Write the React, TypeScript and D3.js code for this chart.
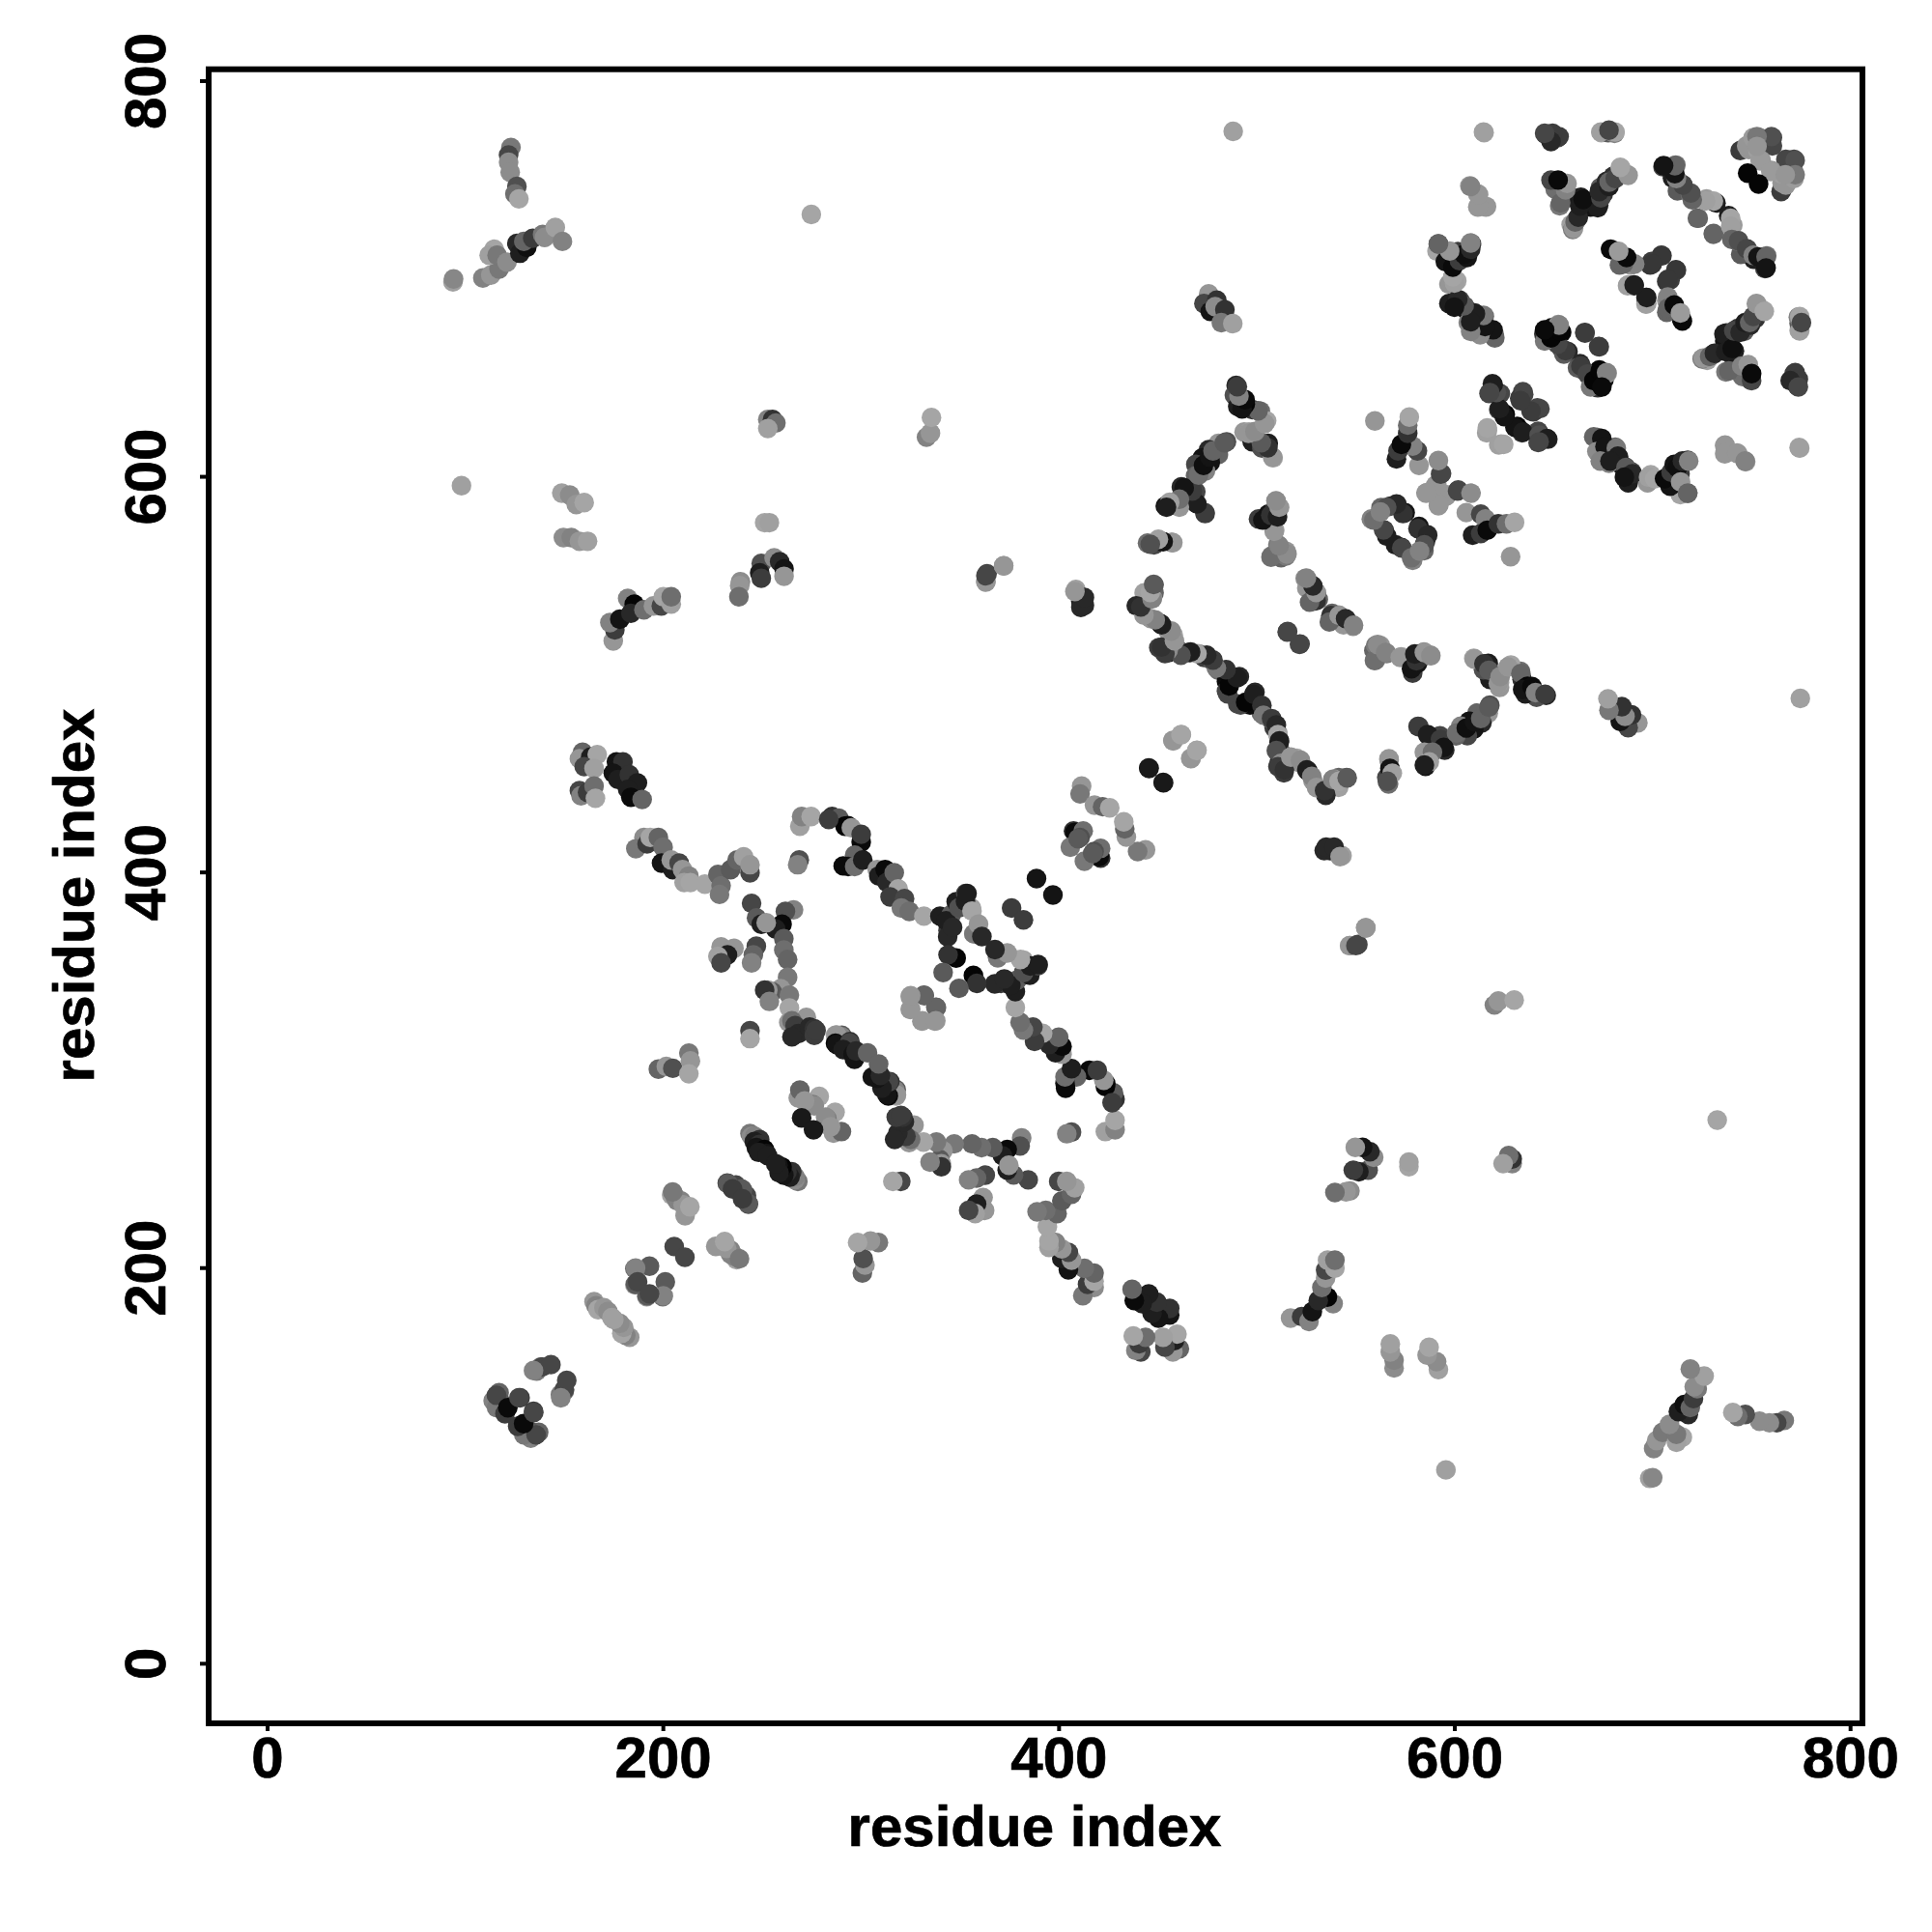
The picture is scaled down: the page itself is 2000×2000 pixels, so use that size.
import React from "react";
import * as d3 from "d3";

type C = [number, number, number];
// each contact: residue i, residue j, grey level. The map is symmetric so each is plotted at (i,j) and (j,i).
const farTopLeft: C[] = [
[123,766.5,120],[121.8,762.7,70],[121.8,759,140],[122.6,754,140],[126,746.8,80],[125,743,110],[127,740.5,165],
[93.7,698.5,160],[94,700,135],[108.8,700.5,130],[112.8,702,150],[117,705,120],[114.5,715,165],[112,712,160],[116,712,120],[121,708.5,140],
[126,718,40],[127.5,713,30],[131,716,15],[129.5,719,100],[134,720.6,60],[139,722.5,120],[140,721,140],[145.4,726,160],[149,719,130],
[274.8,732.6,165],[488,774.6,160],[614.8,774,165],[98,595.5,160],
[148.7,591.7,160],[152.7,590.8,140],[156,586,150],[160,587,165],[149.5,569.3,140],[153.5,569.3,130],[157.6,567.4,150],[161.7,567.4,160],
[251.2,576.8,165],[253.6,576.8,160],[252.8,629,130],[255.2,629,50],[256.9,627.2,110],[252.8,624.4,160],
[239,547,140],[238.6,545,150],[238.2,539.4,110],[249.5,556.2,80],[248.7,551.5,30],[249.5,548.7,60],[256,559,140],[258.8,557.1,40],[261,553.4,20],[261,549.7,150],
[174.7,517,150],[175.5,522.6,60],[173,526.3,130],[178,528,20],[182,538.5,130],[185.3,535.6,5],[183.6,531,40],[190.2,532.8,110],[195,534.7,150],[199,534.7,70],[200,539.4,165],[204,535.7,160],[204,539.4,110],
[333,620,130],[335,622,150],[335.5,630,165],[363,547,150],[363.6,551,70],[372,555,150],[408.5,543,160],[411,537,30],[412,535,60],[411,534,40],
[546.8,363,150],[550,363,70],[555,372,150],
];
const topRightBlock: C[] = [
[646,773,70],[649,771.5,40],[652,771.4,75],[674,774,170],[677.5,774,90],[680.7,773.6,130],
[607.6,747,150],[611.6,743,150],[611.6,736.4,150],[615.7,736.4,150],
[649,749.4,90],[652.3,749.4,40],[655.6,747.8,150],[650.7,745.4,110],[658.8,741.3,25],[663.7,741.3,30],[665.3,736.4,100],[653,737,120],[658.8,727.5,160],[659.6,725,120],[662,730.7,40],[668.6,736.4,20],[672.7,737.2,40],[675,743,50],[673.5,746.2,90],[676.7,749.4,40],[680,751.9,50],[684,756,160],[687.3,752.7,165],
[705.2,756.7,70],[707.6,756.7,40],[711.7,757.6,110],[710,751,30],[715,747.8,70],[712.5,744.5,90],[719,742.9,110],[721.5,740.5,150],[727.2,740.5,155],[732,738.4,30],[723,730.7,100],[730.7,722.6,100],[739.4,730.7,165],[739.4,726.7,160],[740,720,100],[743.4,719.3,80],[747.5,715.3,70],[750.8,712,130],[753.2,711.2,20],[757.3,711.2,100],[757.3,705.5,20],
[744.2,764.9,60],[745.4,765.4,60],[748.6,765.4,150],[747.5,767.3,150],[750.8,771.4,155],[754,771.4,140],[753.2,764.9,160],[760.5,771.4,70],[760.5,767.3,70],[754.8,760,150],[754.3,759.7,155],[760,772,80],[752.7,772,120],[752.7,767,150],[748,753.5,5],
[680,714.5,30],[682.4,713.7,150],[686.5,710.4,20],[689,707.1,150],[683.2,707.1,100],[698.7,707.1,55],[704.4,712,60],[699.5,708.8,60],[711.7,704.7,55],[707.6,699.8,55],[687.3,696.6,160],[690.6,696.6,35],[697,687.6,160],[697,690.6,30],[707.6,690.9,130],[707.6,685.2,100],[710.9,686.8,10],[715,678.7,10],[714,682.8,155],
[591,714,165],[591.7,717.7,100],[608.4,717.7,50],[604.3,713.7,120],[600.3,710.4,40],[599.4,707.1,20],[595.2,708.8,20],[597,697.4,150],[601,699,165],[598.5,687.6,30],[602.5,689.3,70],[601.9,689.3,80],[597,687.6,30],[605,686,30],[605.8,684.4,20],[610,682.8,40],[614.9,681.1,100],[606.8,677.9,130],[613.3,674.6,60],[617.3,674.6,20],[619.8,672.2,90],
[649,675.4,20],[652.3,677,150],[645,672.2,50],[654,673,10],[650.7,668.1,110],[654,664.9,80],[657.2,663.3,40],[665.8,672.7,60],[673,665.7,60],[662,655.1,90],[663.7,656,60],[667,652,70],[668.6,645.4,120],[670.2,648.6,5],[673.5,653.5,5],[676.7,652.7,130],[674.3,645.4,10],
[725.5,660,150],[728.8,660.8,100],[731.2,662.4,40],[736,672.2,30],[736.9,663.2,30],[740.2,664.9,15],[738.5,653.5,100],[745,656,130],[748.3,656.7,150],[750,648.6,70],[750,652.2,10],[741,673.8,70],[744.2,673,40],[746.7,677.9,30],[749,678,100],[750.8,681.1,70],[752.4,687.6,150],[756.4,683.6,165],
[774.3,681,165],[774.3,673.8,160],[775.2,677.9,70],[772,652.7,60],[773.6,649.4,60],[769.5,648.6,40],[773.6,645.4,70],[736.6,616,150],[736.9,612,150],[742.6,612,150],[746.7,608,130],[774.3,614.5,160],
[670.2,620.2,100],[674.3,619.3,20],[671.8,612.8,140],[675.9,615.3,20],[681.6,614.5,120],[673.5,608,130],[682.4,610.4,30],[678.4,608,30],[686.5,604.7,90],[689.7,601.5,40],[685.7,599.8,20],[697.9,599.8,160],[701.1,599,165],[706,599,10],[709.3,602.3,60],[713.8,601.5,60],[710.9,606.3,20],[712.5,604.7,15],[715,608,40],[718.2,608,130],[714.1,597.4,150],[717.7,591.7,100],
[616.5,623.4,165],[619,647,40],[617.3,642.1,70],[623,642.1,70],[634.4,643,70],[632.8,639.7,60],[641.7,634.8,70],[638.5,633.2,60],[622.2,634,60],[625.5,631.5,5],[630.4,625,20],[634.4,622.6,30],[642.6,621,80],[646.6,619.4,30],[642.6,617.7,70],[622.2,616.1,160],[624.7,616.4,165],
];
const middleBands: C[] = [
[475.6,692.5,150],[473.2,687.6,70],[476.4,683.6,20],[479.7,689.3,50],[478.9,686,140],[483.8,684.4,50],[482,677.9,120],[487.8,677.4,160],
[489.5,646.2,40],[488.6,641.3,80],[491.9,638.9,5],[490.3,635.6,30],[497.6,634,50],[501.7,633.2,110],[504.9,628.3,165],[493.5,622.6,150],[496,622.6,160],[499.2,619.3,100],[497.6,617.7,30],[505.7,616.9,30],[502.5,614.5,80],[508.2,609.6,165],
[484.6,617.7,80],[480.5,616.9,150],[475.6,613.7,40],[480.5,611.2,100],[472.4,609.6,20],[469.1,606.3,70],[476.4,607.2,20],[474,603,130],[469,600.6,100],
[469.1,592.5,70],[461.8,594.9,40],[453.7,585.2,20],[456.1,586.8,150],[460.2,586,60],[469.1,586.8,30],[473.7,581.9,70],
[444.7,566.5,110],[448,565.6,70],[450.4,567.3,50],[456.9,566.8,130],
[500.8,578.7,60],[505.7,581.1,20],[509,583.5,50],[509.8,587.6,150],[511.4,584.4,140],[509,573,165],[510.6,565.6,120],[507.4,560,120],[512.2,559.1,100],[514.7,560,120],[514.7,562.4,150],
[524.4,548.6,140],[527.7,545.3,30],[525.2,543.7,150],[530.1,541.3,150],[531,538,100],[528.5,537.2,110],[537.4,529.9,50],[536.6,526.6,100],[541.5,529.9,150],[544.8,528.3,40],[548.8,525,130],
[515.5,521.8,70],[521.5,515.3,70],
[559.4,507.1,110],[561,515.2,140],[565.1,511.2,130],[572.4,508.7,150],[578.1,503,20],[580.6,507,50],[579.8,510.4,30],[584.6,511.2,150],[587.9,509.6,140],
[609.9,507.9,150],[614.7,505.5,50],[617.2,502.2,90],[622,495.7,150],[622.9,499,140],[626.9,503.9,150],[633.4,500.6,100],[636.7,494.1,5],[634.3,492.5,20],[639,494,10],[640.8,490.9,130],[645.6,490.1,60],
[557.8,578.7,130],[562.7,584.4,100],[567.5,585.2,40],[570.8,586,50],[574.9,581.9,20],[564.3,573,20],[570,565.6,30],[573.2,564,70],[578.1,559.1,110],[581.4,573.8,50],[586.3,570.5,40],[584.6,565.6,80],[582.2,562.4,130],
[585.4,591.7,150],[590.3,595.7,150],[596,590.9,150],[592,586,150],[592.8,601.4,70],[601.7,593.3,70],[608.2,591.7,140],[605.8,581.9,150],[613.1,581.1,70],[609,570.5,30],[615.5,578.7,130],[613.1,571.3,60],[616.4,573,10],[622,576.2,50],[626.1,576.2,110],[630.2,577,165],[628.2,559.6,150],
[448,545.3,90],[448,541.3,100],[443,541.3,160],[439,534.8,40],[447.2,538.8,150],[446.3,528.3,150],[451.2,525.8,20],[455.3,521.8,150],[457.7,520.1,165],[450.4,513.6,60],[455.3,511.2,30],[461,512,100],[465.9,511.2,30],[470.7,510.4,140],[473.2,508.7,60],[477.3,507.1,90],[480.5,502.2,110],[483.8,502.2,30],[484.6,496.5,10],[487.8,498.2,130],[491.1,499,40],[484.6,491.7,70],[490.3,485.2,70],[494.3,486,5],[498.4,490,30],[502.5,484.4,50],[503.3,479.5,120],[507.4,477.8,60],[509.8,474.6,40],[510.6,469.7,165],[511.4,466.5,30],[509.8,461.6,80],[512.2,455.1,140],[510.6,453.5,60],[513.9,451.8,50],[517.1,458.3,150],[522,456.7,140],[525.2,451.8,30],[527.7,448.6,130],[530.1,442.9,150],[534.2,441.3,50],[538.3,447,130],[541.5,446.1,165],[545.6,447.8,90],
[566.7,457.5,150],[567.2,452.6,20],[568.4,450.2,160],[565.9,446.1,80],
[581.4,473.8,60],[586.3,469.7,30],[592.8,467.3,60],[594.4,463.2,20],[584.6,460.8,150],[588.7,460.8,110],[587.1,455.9,160],[584.6,454.3,30],[600.9,470.5,110],[605.8,473,15],[609.9,476.2,20],[613.1,477.8,100],[617.2,483.5,90],
[457.7,466.5,160],[461.8,469.7,165],[466.7,457.5,150],[469.6,461.6,165],[445.5,452.6,25],[452.8,445.3,25],[535,412.8,40],[539,412.8,40],[542,408,150],
[411.4,443.7,150],[410.6,439.7,120],[417.9,434,150],[422,433.2,100],[425.6,432.7,165],[407.3,421,50],[408,420.3,10],[412.2,421,110],[410.6,417.7,80],[405.7,412.8,120],[409.6,417,90],
[388.6,396.9,20],[376,382,60],
];
const crossingBands: C[] = [
[265.8,381.1,130],[261.7,380.3,80],[260,373.8,10],[256.8,371.4,30],[260.9,366.5,90],[260.9,360.8,110],[262.8,356,100],[262.8,347,120],[259.3,341.3,150],[255,339.7,90],[263.7,338,120],[263.7,331.5,165],
[244.6,384.4,70],[247.1,377,90],[249.5,373.8,30],[252,374.6,150],[229.2,362.4,150],[235.7,361.6,150],[232.4,358.3,30],[227.6,357.6,160],[229.2,354.3,70],[247,362.7,70],[245.5,358.3,100],[244.6,354.3,130],
[252.8,340.5,150],[251.2,340.5,50],[253.6,334.8,130],[243.8,320,70],[243.8,316,165],
[197.5,300.6,100],[201.5,301.9,150],[204.8,301,80],[212.9,308.7,120],[213.7,304.7,150],[212.9,298.2,165],
[159.2,460.8,100],[157.6,457.5,150],[163.3,458.3,30],[166.6,459.6,165],[160,453.5,70],[165,452.6,160],[157.6,441.3,70],[158.4,438.8,130],[161.7,440.5,60],[165,443.7,110],[165.7,437.5,165],
[176.3,455.9,20],[179.6,455.9,50],[174.7,450.2,20],[177.1,447,30],[182.8,449.4,50],[186.9,445.3,30],[182,442,30],[183.6,438,10],[189.3,436.9,100],
[190.2,417.7,140],[186.1,412,120],[191.8,414.4,60],[193.4,417.7,165],[197.5,417.7,100],[199.9,412.8,110],[199.1,404.7,20],[204.8,401.4,30],[204,406.3,150],[208,404.7,70],[209.7,401.4,150],[212.9,398.2,130],[210.5,394.9,160],[213.7,394.9,165],
[221,394.1,165],[227.6,399,100],[229.2,393.3,110],[228.4,388.9,120],[234,401.4,90],[237.3,406.3,100],[240.6,407.9,160],[243.8,399.8,70],[243.8,403.9,150],
[269,423.4,160],[269.9,428.3,130],[274.7,428.3,165],[268.7,406.3,80],[267.9,403.9,130],[285.3,428.3,50],[288.6,427.5,90],[291.8,423.4,5],[293.3,423.6,5],[295,422.6,150],[283.6,426.8,60],[300,415.3,10],[300,419.3,60],[296.7,408.8,100],[293.4,403,20],[290.9,403.3,10],[296.7,403,110],[300.8,406.3,30],
[308.1,401.5,150],[308.9,398.2,30],[312.1,401.5,10],[313,395,40],[316.7,399.8,100],[318.7,391.7,165],[314.6,387.6,60],[321.9,386.8,70],[320.3,382,120],[324.3,380.3,110],[331.7,377.9,165],[339.8,377.9,30],[343.9,370.6,60],[345.5,378.7,90],[348,385.2,30],[352.8,389.3,70],[355.7,382,160],[342.9,375.6,30],[343.7,367.5,40],[346.2,372.3,40],[349.4,382.1,80],[352.7,385.4,30],[353.5,389.4,30],[356,380.5,165],
[356.9,369,150],[357,369,120],[359.3,373.8,150],[361,367.6,40],[348,356.7,5],[343.9,358.4,50],[341.4,349.4,90],
[324.8,337.2,150],[331.7,338,90],[337.7,331.9,100],[324.8,330.7,150],[330.9,325,150],[337.7,325,150],
[263.4,324.2,150],[272.3,326.7,150],[265,325,110],[266.6,322.6,60],[268.2,318.5,40],[265,316.9,40],[273.9,321.8,40],[276.3,321,50],[276.3,317.7,60],[277.2,320.1,60],
[287,317.7,160],[290.2,317.7,90],[290,317,130],[287.6,317.8,150],[287,313.7,10],[287.6,313,20],[291.8,312,20],[294.3,314.5,50],[294.1,313.8,70],[290.9,310.5,30],[295.9,308,20],[296.6,305.6,20],[297.4,309.7,40],[303.2,308.8,100],
];
const lowerDiagonal: C[] = [
[114,133,130],[115.8,135.6,70],[117,137,100],[117,130,40],[118,132,90],[115.7,129.5,120],[115.7,135.7,70],[120,126.4,60],[121.4,129.4,10],[127.6,134.4,60],[127,134.5,70],
[136,148,120],[138,150,100],[138.7,150,70],[143.2,151.2,70],[134.4,148.2,130],
[165,183,150],[166,181,130],[167,179,165],[170,180,150],[172,178,140],[174,175,160],
[185.6,199.7,110],[193,201,90],[185.6,191.6,150],[186,191.8,90],[186,200,130],[187,193,70],[205.5,210.9,70],
[204.2,237,165],[206,236,130],[207,234,130],[209,234,130],[210,232,150],[211,226.5,150],[213.4,231,165],[204.7,238.5,120],
[232.3,243,70],[236.6,242,70],[240,239.5,90],[232.7,242.8,90],[235,240,60],
[243.8,268,120],[244.6,266.5,140],[246.2,266.6,130],[248.7,264.9,50],[247,263.2,40],[246,264,30],[248.6,262.5,50],[247,260.9,20],[251.1,260,5],[252,258,20],[248.2,258.5,30],[252.7,256.8,30],
[268.2,286,150],[269,290,100],[278.8,286.8,165],[275.6,282.7,120],[276.3,282,140],[271.4,284.5,150],[269.9,275.9,25],
];

const allContacts: C[] = [...farTopLeft, ...topRightBlock, ...middleBands, ...crossingBands, ...lowerDiagonal];
const tickValues = [0, 200, 400, 600, 800];
const axisTitle = "residue index";

const x = d3.scaleLinear().domain([0, 800]).range([277, 1915.7]);
const y = d3.scaleLinear().domain([0, 800]).range([1722.3, 84]);
const font = "'Liberation Sans', Arial, sans-serif";

export default function App() {
  const shade = (g: number) => d3.rgb(g, g, g).formatHex();
  const marks = allContacts.flatMap(([i, j, g]) => [[i, j, g], [j, i, g]]);
  const textStyle = { fontFamily: font, fontWeight: "bold", fontSize: 60, stroke: "#000", strokeWidth: 0.7 } as const;
  return (
    <svg width={2000} height={2000} style={{ position: "absolute", left: 0, top: 0, background: "#fff" }}>
      {marks.map(([a, b, g], k) => (
        <circle key={k} cx={x(a)} cy={y(b)} r={10.2} fill={shade(g)} />
      ))}
      <rect x={216} y={71.7} width={1712} height={1712.3} fill="none" stroke="#000" strokeWidth={6} />
      {tickValues.map((t) => (
        <g key={t}>
          <line x1={x(t)} x2={x(t)} y1={1784} y2={1792} stroke="#000" strokeWidth={4} />
          <line y1={y(t)} y2={y(t)} x1={216} x2={207} stroke="#000" strokeWidth={4} />
          <text x={x(t)} y={1840} textAnchor="middle" style={textStyle}>{t}</text>
          <text transform={`translate(171,${y(t)}) rotate(-90)`} textAnchor="middle" style={textStyle}>{t}</text>
        </g>
      ))}
      <text x={1071} y={1911} textAnchor="middle" style={textStyle}>{axisTitle}</text>
      <text transform="translate(97,927) rotate(-90)" textAnchor="middle" style={textStyle}>{axisTitle}</text>
    </svg>
  );
}
